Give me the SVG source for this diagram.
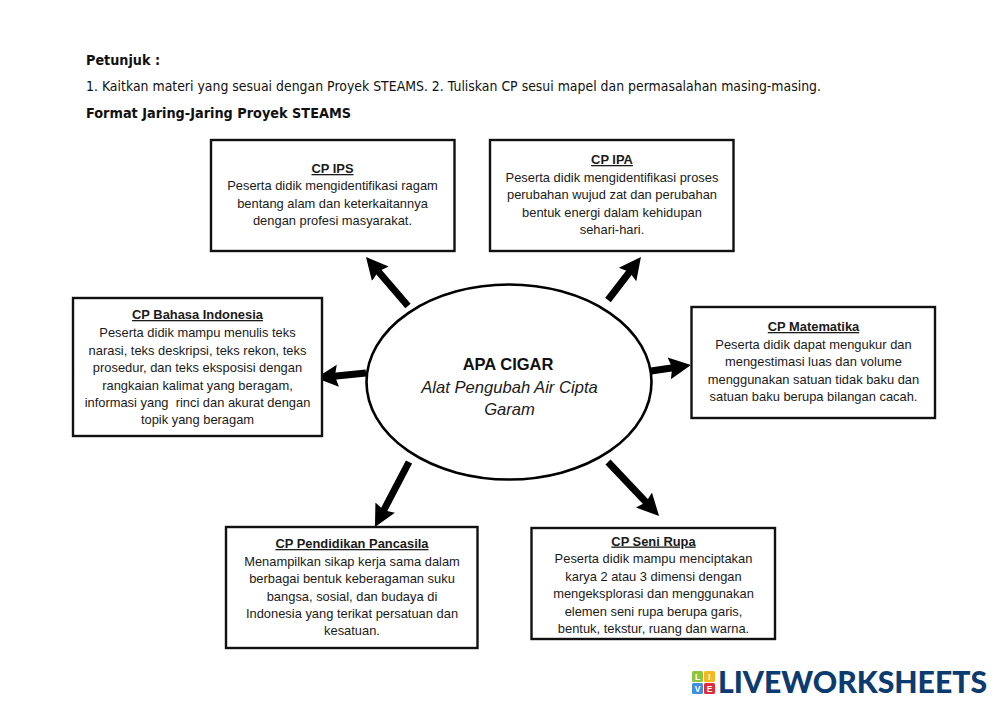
<svg xmlns="http://www.w3.org/2000/svg" width="999" height="707" viewBox="0 0 999 707">
<style>
.h{font-family:"DejaVu Sans",Verdana,sans-serif;font-size:13.5px;fill:#111}
.b{font-weight:bold}
.t{font-family:"Liberation Sans",Arial,sans-serif;font-size:12.9px;fill:#1a1a1a;text-anchor:middle}
.cp{font-weight:bold;text-decoration:underline}
.box{fill:#fff;stroke:#111;stroke-width:2.4}
.arrow{stroke:#000;stroke-width:7;fill:none;marker-end:url(#ah)}
.lg{font-size:8.500px;font-weight:bold;font-family:"Liberation Sans",sans-serif;fill:#fff;text-anchor:middle}
</style>
<defs>
<marker id="ah" markerUnits="userSpaceOnUse" markerWidth="24" markerHeight="26" refX="4" refY="12" orient="auto">
<path d="M0 1L22 12L0 23L3 12Z" fill="#000"/>
</marker>
</defs>
<rect width="999" height="707" fill="#fff"/>
<text class="h b" x="86" y="65" textLength="74" lengthAdjust="spacingAndGlyphs">Petunjuk :</text>
<text class="h" x="86" y="91" textLength="735" lengthAdjust="spacingAndGlyphs">1. Kaitkan materi yang sesuai dengan Proyek STEAMS. 2. Tuliskan CP sesui mapel dan permasalahan masing-masing.</text>
<text class="h b" x="86" y="118" textLength="265" lengthAdjust="spacingAndGlyphs">Format Jaring-Jaring Proyek STEAMS</text>
<g id="connectors">
<path class="arrow" d="M408 306L377.700 270.700"/>
<path class="arrow" d="M608 300L630 271.300"/>
<path class="arrow" d="M366 373L333.900 376.200"/>
<path class="arrow" d="M651 371L673.200 367.700"/>
<path class="arrow" d="M409 462L383.300 511.100"/>
<path class="arrow" d="M608 462L646.700 502.900"/>
</g>
<g id="center">
<ellipse cx="509" cy="382" rx="142.500" ry="97.500" fill="#fff" stroke="#000" stroke-width="2.600"/>
<text class="t" x="508" y="370" style="font-size:16.500px;font-weight:bold;fill:#111">APA CIGAR</text>
<text class="t" x="509.500" y="393" style="font-size:16.600px;font-style:italic">Alat Pengubah Air Cipta</text>
<text class="t" x="509.500" y="415" style="font-size:16.600px;font-style:italic">Garam</text>
</g>
<g id="cp-ips">
<rect class="box" x="211" y="140" width="243.500" height="111"/>
<text class="t cp" x="332.500" y="173">CP IPS</text>
<text class="t" x="332.500" y="190">Peserta didik mengidentifikasi ragam</text>
<text class="t" x="332.500" y="208">bentang alam dan keterkaitannya</text>
<text class="t" x="332.500" y="225">dengan profesi masyarakat.</text>
</g>
<g id="cp-ipa">
<rect class="box" x="490" y="140" width="243.500" height="111"/>
<text class="t cp" x="612" y="164">CP IPA</text>
<text class="t" x="612" y="182">Peserta didik mengidentifikasi proses</text>
<text class="t" x="612" y="199">perubahan wujud zat dan perubahan</text>
<text class="t" x="612" y="217">bentuk energi dalam kehidupan</text>
<text class="t" x="612" y="234">sehari-hari.</text>
</g>
<g id="cp-bahasa-indonesia">
<rect class="box" x="73" y="298" width="249" height="138"/>
<text class="t cp" x="197.500" y="319">CP Bahasa Indonesia</text>
<text class="t" x="197.500" y="337">Peserta didik mampu menulis teks</text>
<text class="t" x="197.500" y="355">narasi, teks deskripsi, teks rekon, teks</text>
<text class="t" x="197.500" y="372">prosedur, dan teks eksposisi dengan</text>
<text class="t" x="197.500" y="390">rangkaian kalimat yang beragam,</text>
<text class="t" x="197.500" y="407" xml:space="preserve">informasi yang  rinci dan akurat dengan</text>
<text class="t" x="197.500" y="424">topik yang beragam</text>
</g>
<g id="cp-matematika">
<rect class="box" x="691.500" y="307" width="243.500" height="111"/>
<text class="t cp" x="813.500" y="331">CP Matematika</text>
<text class="t" x="813.500" y="349">Peserta didik dapat mengukur dan</text>
<text class="t" x="813.500" y="366">mengestimasi luas dan volume</text>
<text class="t" x="813.500" y="384">menggunakan satuan tidak baku dan</text>
<text class="t" x="813.500" y="401">satuan baku berupa bilangan cacah.</text>
</g>
<g id="cp-pendidikan-pancasila">
<rect class="box" x="226" y="527" width="251.500" height="121"/>
<text class="t cp" x="352" y="548">CP Pendidikan Pancasila</text>
<text class="t" x="352" y="566">Menampilkan sikap kerja sama dalam</text>
<text class="t" x="352" y="583">berbagai bentuk keberagaman suku</text>
<text class="t" x="352" y="601">bangsa, sosial, dan budaya di</text>
<text class="t" x="352" y="618">Indonesia yang terikat persatuan dan</text>
<text class="t" x="352" y="635">kesatuan.</text>
</g>
<g id="cp-seni-rupa">
<rect class="box" x="531.500" y="528" width="243.500" height="111"/>
<text class="t cp" x="653.500" y="545.500">CP Seni Rupa</text>
<text class="t" x="653.500" y="563">Peserta didik mampu menciptakan</text>
<text class="t" x="653.500" y="581">karya 2 atau 3 dimensi dengan</text>
<text class="t" x="653.500" y="598">mengeksplorasi dan menggunakan</text>
<text class="t" x="653.500" y="616">elemen seni rupa berupa garis,</text>
<text class="t" x="653.500" y="633">bentuk, tekstur, ruang dan warna.</text>
</g>
<g id="logo">
<rect x="692" y="671" width="11" height="11" rx="1.500" fill="#8cc63f"/>
<rect x="704" y="671" width="11" height="11" rx="1.500" fill="#f5b81f"/>
<rect x="692" y="683" width="11" height="11" rx="1.500" fill="#3f8fe0"/>
<rect x="704" y="683" width="11" height="11" rx="1.500" fill="#e02b3c"/>
<text class="lg" x="697.500" y="680">L</text>
<text class="lg" x="709.500" y="680">I</text>
<text class="lg" x="697.500" y="692">V</text>
<text class="lg" x="709.500" y="692">E</text>
<text x="718" y="693" textLength="269" lengthAdjust="spacingAndGlyphs" style="font-family:'Lato','Liberation Sans',sans-serif;font-weight:900;font-size:31px;fill:#0c3b6f">LIVEWORKSHEETS</text>
</g>
</svg>
